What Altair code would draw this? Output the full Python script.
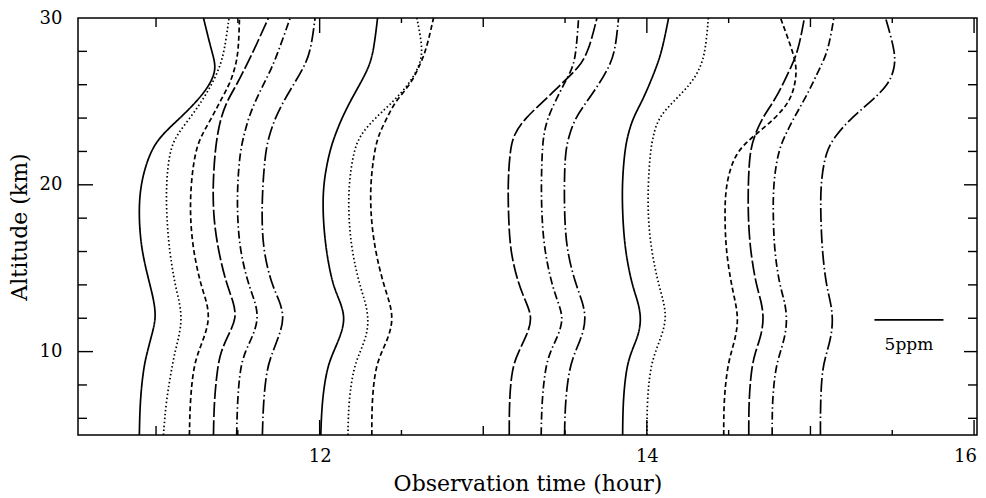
import altair as alt
import pandas as pd

ALTITUDE_KM = [5, 7, 9, 10, 11, 12, 13, 14, 16, 18, 20, 22, 23, 24, 25, 26, 27, 28, 30]

# Profile positions on the observation-time axis (hour), one list per profile
P01 = [10.898, 10.902, 10.923, 10.947, 10.974, 11.000, 10.988, 10.963, 10.912, 10.894, 10.902, 10.963, 11.035, 11.147, 11.249, 11.330, 11.371, 11.340, 11.290]
P02 = [11.045, 11.061, 11.096, 11.116, 11.143, 11.157, 11.143, 11.116, 11.082, 11.065, 11.061, 11.082, 11.126, 11.208, 11.279, 11.340, 11.387, 11.418, 11.446]
P03 = [11.204, 11.208, 11.228, 11.259, 11.300, 11.326, 11.310, 11.273, 11.228, 11.208, 11.212, 11.239, 11.279, 11.340, 11.391, 11.449, 11.483, 11.504, 11.510]
P04 = [11.351, 11.355, 11.375, 11.396, 11.442, 11.493, 11.473, 11.432, 11.381, 11.351, 11.347, 11.361, 11.375, 11.396, 11.432, 11.493, 11.544, 11.595, 11.687]
P05 = [11.493, 11.497, 11.514, 11.544, 11.595, 11.626, 11.606, 11.565, 11.514, 11.497, 11.497, 11.514, 11.538, 11.565, 11.606, 11.656, 11.707, 11.748, 11.820]
P06 = [11.650, 11.656, 11.677, 11.714, 11.754, 11.783, 11.758, 11.707, 11.656, 11.646, 11.652, 11.669, 11.693, 11.728, 11.779, 11.840, 11.901, 11.946, 11.972]
P07 = [12.007, 12.014, 12.044, 12.085, 12.130, 12.156, 12.126, 12.079, 12.040, 12.020, 12.020, 12.060, 12.095, 12.136, 12.187, 12.244, 12.299, 12.330, 12.354]
P08 = [12.173, 12.177, 12.207, 12.248, 12.289, 12.299, 12.279, 12.244, 12.197, 12.177, 12.177, 12.207, 12.248, 12.339, 12.451, 12.543, 12.604, 12.635, 12.594]
P09 = [12.319, 12.319, 12.340, 12.380, 12.427, 12.448, 12.427, 12.391, 12.340, 12.313, 12.309, 12.334, 12.360, 12.411, 12.462, 12.554, 12.604, 12.650, 12.696]
P10 = [13.159, 13.159, 13.175, 13.216, 13.267, 13.301, 13.261, 13.216, 13.165, 13.155, 13.150, 13.163, 13.185, 13.256, 13.369, 13.471, 13.583, 13.644, 13.695]
P11 = [13.354, 13.358, 13.379, 13.409, 13.460, 13.491, 13.456, 13.420, 13.375, 13.358, 13.354, 13.360, 13.369, 13.393, 13.440, 13.491, 13.548, 13.568, 13.583]
P12 = [13.497, 13.501, 13.526, 13.562, 13.607, 13.628, 13.607, 13.566, 13.511, 13.497, 13.495, 13.501, 13.526, 13.562, 13.634, 13.705, 13.766, 13.807, 13.827]
P13 = [13.852, 13.854, 13.874, 13.905, 13.950, 13.966, 13.946, 13.909, 13.868, 13.852, 13.848, 13.864, 13.884, 13.915, 13.970, 14.015, 14.056, 14.092, 14.133]
P14 = [14.001, 14.001, 14.021, 14.052, 14.093, 14.119, 14.103, 14.072, 14.028, 14.007, 14.007, 14.021, 14.040, 14.070, 14.162, 14.266, 14.327, 14.358, 14.376]
P15 = [14.470, 14.470, 14.491, 14.517, 14.546, 14.558, 14.541, 14.517, 14.484, 14.476, 14.480, 14.541, 14.664, 14.786, 14.874, 14.906, 14.917, 14.892, 14.817]
P16 = [14.623, 14.623, 14.639, 14.664, 14.700, 14.715, 14.700, 14.668, 14.633, 14.619, 14.619, 14.629, 14.660, 14.705, 14.776, 14.831, 14.878, 14.925, 14.963]
P17 = [14.766, 14.766, 14.786, 14.817, 14.847, 14.857, 14.843, 14.811, 14.780, 14.772, 14.772, 14.802, 14.847, 14.898, 14.957, 15.010, 15.057, 15.108, 15.143]
P18 = [15.061, 15.061, 15.072, 15.102, 15.129, 15.137, 15.123, 15.096, 15.072, 15.063, 15.061, 15.092, 15.157, 15.249, 15.371, 15.477, 15.516, 15.518, 15.459]

PROFILES = [P01, P02, P03, P04, P05, P06, P07, P08, P09,
            P10, P11, P12, P13, P14, P15, P16, P17, P18]
STYLE_CYCLE = ["solid", "dotted", "dashed", "longdash", "dashdot", "longdashdot"]
DASHES = [[1, 0], [1.5, 2.5], [5, 3], [15, 3], [8, 3, 1.5, 3], [14, 3, 1.5, 3]]

# Axis ticks
X_LABELS = [12, 14, 16]
X_TICKS_MAJOR = [12, 14, 16]
X_TICKS_HOUR = [11, 13, 15]
X_TICKS_HALF = [11.5, 12.5, 13.5, 14.5, 15.5]
Y_LABELS = [10, 20, 30]
Y_TICKS_MAJOR = [10, 20]
Y_TICKS_MINOR = [6, 8, 12, 14, 16, 18, 22, 24, 26, 28]

# 5 ppm scale bar (in axis units)
SCALE_BAR_T0 = 15.391
SCALE_BAR_T1 = 15.813
SCALE_BAR_ALT = 11.9
SCALE_BAR_TEXT = "5ppm"

X_DOMAIN = [10.523, 16.018]
Y_DOMAIN = [5, 30]
W, H = 899, 417
FONT = "DejaVu Serif"

rows = []
for i, prof in enumerate(PROFILES):
    for a, t in zip(ALTITUDE_KM, prof):
        rows.append({"profile": f"p{i+1:02d}", "altitude": a, "time": t,
                     "style": STYLE_CYCLE[i % len(STYLE_CYCLE)]})
df = pd.DataFrame(rows)

xs = alt.Scale(domain=X_DOMAIN, nice=False, zero=False)
ys = alt.Scale(domain=Y_DOMAIN, nice=False, zero=False)

lines = alt.Chart(df).mark_line(color="black", strokeWidth=1.7,
                                interpolate="basis", clip=True).encode(
    x=alt.X("time:Q", scale=xs,
            axis=alt.Axis(values=X_LABELS, title="Observation time (hour)",
                          ticks=False, domain=False, grid=False, tickSize=0,
                          labelPadding=12, labelFontSize=18, labelFont=FONT,
                          labelColor="black", titleFont=FONT, titleFontSize=22,
                          titleFontWeight="normal", titleColor="black",
                          titlePadding=8, format="d", labelFlush=False,
                          labelOffset={"condition": {"test": "datum.value == 16",
                                                     "value": -9},
                                       "value": 0})),
    y=alt.Y("altitude:Q", scale=ys,
            axis=alt.Axis(values=Y_LABELS, title="Altitude (km)",
                          ticks=False, domain=False, grid=False, tickSize=0,
                          labelPadding=16, labelFontSize=18, labelFont=FONT,
                          labelColor="black", titleFont=FONT, titleFontSize=22,
                          titleFontWeight="normal", titleColor="black",
                          titlePadding=8, format="d")),
    detail="profile:N",
    order="altitude:Q",
    strokeDash=alt.StrokeDash("style:N",
                              scale=alt.Scale(domain=STYLE_CYCLE, range=DASHES),
                              legend=None),
)


def xticks(vals, length):
    d = pd.DataFrame({"t": vals})
    bottom = alt.Chart(d).mark_rule(color="black", strokeWidth=1.4).encode(
        x=alt.X("t:Q", scale=xs, axis=None),
        y=alt.value(H), y2=alt.value(H - length))
    top = alt.Chart(d).mark_rule(color="black", strokeWidth=1.4).encode(
        x=alt.X("t:Q", scale=xs, axis=None),
        y=alt.value(0), y2=alt.value(length))
    return [bottom, top]


def yticks(vals, length_left, length_right):
    d = pd.DataFrame({"a": vals})
    left = alt.Chart(d).mark_rule(color="black", strokeWidth=1.4).encode(
        y=alt.Y("a:Q", scale=ys, axis=None),
        x=alt.value(0), x2=alt.value(length_left))
    right = alt.Chart(d).mark_rule(color="black", strokeWidth=1.4).encode(
        y=alt.Y("a:Q", scale=ys, axis=None),
        x=alt.value(W), x2=alt.value(W - length_right))
    return [left, right]


tick_layers = (xticks(X_TICKS_MAJOR, 15) + xticks(X_TICKS_HOUR, 9) +
               xticks(X_TICKS_HALF, 5) + yticks(Y_TICKS_MAJOR, 15, 13) +
               yticks(Y_TICKS_MINOR, 9, 9))

bar_df = pd.DataFrame({"t0": [SCALE_BAR_T0], "t1": [SCALE_BAR_T1],
                       "alt": [SCALE_BAR_ALT], "label": [SCALE_BAR_TEXT],
                       "tm": [(SCALE_BAR_T0 + SCALE_BAR_T1) / 2]})
bar = alt.Chart(bar_df).mark_rule(color="black", strokeWidth=1.6).encode(
    x=alt.X("t0:Q", scale=xs, axis=None), x2="t1:Q",
    y=alt.Y("alt:Q", scale=ys, axis=None))
bar_text = alt.Chart(bar_df).mark_text(font=FONT, fontSize=17, color="black",
                                       baseline="middle", dy=25).encode(
    x=alt.X("tm:Q", scale=xs, axis=None),
    y=alt.Y("alt:Q", scale=ys, axis=None),
    text="label:N")

chart = alt.layer(lines, *tick_layers, bar, bar_text).resolve_axis(
    x="independent", y="independent"
).properties(
    width=W, height=H,
    padding={"left": 70, "top": 10, "right": 1, "bottom": 60},
    autosize=alt.AutoSizeParams(type="none"),
).configure(
    font=FONT,
    view=alt.ViewConfig(stroke="black", strokeWidth=1.5),
)

chart.save("out.html", embed_options={"renderer": "svg", "actions": False})
